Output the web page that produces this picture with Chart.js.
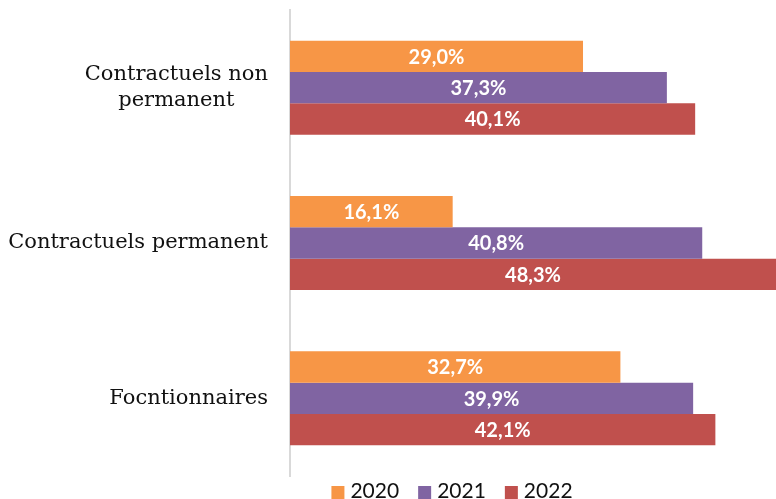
<!DOCTYPE html>
<html>
<head>
<meta charset="utf-8">
<script src="https://cdn.jsdelivr.net/npm/chart.js@4/dist/chart.umd.min.js"></script>
<style>
  html, body { margin: 0; padding: 0; overflow: hidden; background: #fff; }
  #wrap { width: 776px; height: 499px; }
</style>
</head>
<body>
<div id="wrap"><canvas id="chart"></canvas></div>
<script>
// Values
const categories = [["Contractuels non", "permanent"], "Contractuels permanent", "Focntionnaires"];
const years = ["2020", "2021", "2022"];
const values2020 = [29.0, 16.1, 32.7];
const values2021 = [37.3, 40.8, 39.9];
const values2022 = [40.1, 48.3, 42.1];
const colors = ["#F79646", "#8064A2", "#C0504D"];

// White percentage labels in the middle of each bar
const barLabels = {
    id: "barLabels",
    afterDatasetsDraw(chart) {
        const ctx = chart.ctx;
        const area = chart.chartArea;
        ctx.save();
        ctx.fillStyle = "#fff";
        ctx.font = "bold 20px Lato";
        ctx.textAlign = "center";
        ctx.textBaseline = "middle";
        chart.data.datasets.forEach((ds, i) => {
            chart.getDatasetMeta(i).data.forEach((bar, j) => {
                const right = Math.min(bar.x, area.right);
                const txt = ds.data[j].toFixed(1).replace(".", ",") + "%";
                ctx.fillText(txt, (bar.base + right) / 2, bar.y + 1);
            });
        });
        ctx.restore();
    }
};

// Category names, multi-line ones centred on each other, block right-aligned
const catLabels = {
    id: "catLabels",
    afterDraw(chart) {
        const ctx = chart.ctx;
        const y = chart.scales.y;
        const right = chart.chartArea.left - 22;
        ctx.save();
        ctx.fillStyle = "#111";
        ctx.font = "21px 'DejaVu Serif'";
        ctx.textAlign = "center";
        ctx.textBaseline = "middle";
        chart.data.labels.forEach((lab, i) => {
            const lines = Array.isArray(lab) ? lab : [lab];
            const w = Math.max(...lines.map(l => ctx.measureText(l).width));
            const cy = y.getPixelForValue(i);
            const lh = 26;
            lines.forEach((l, k) => {
                ctx.fillText(l, right - w / 2, cy + (k - (lines.length - 1) / 2) * lh);
            });
        });
        ctx.restore();
    }
};

// Legend along the bottom edge
const bottomLegend = {
    id: "bottomLegend",
    afterDraw(chart) {
        const ctx = chart.ctx;
        ctx.save();
        ctx.font = "21px Lato";
        ctx.textBaseline = "alphabetic";
        const box = 13, gap = 6, space = 19;
        const items = chart.data.datasets.map(ds => ({ text: ds.label, color: ds.backgroundColor }));
        const total = items.reduce((s, it) => s + box + gap + ctx.measureText(it.text).width, 0) + space * (items.length - 1);
        let x = 452 - total / 2;
        items.forEach(it => {
            ctx.fillStyle = it.color;
            ctx.fillRect(x, 486, box, box);
            x += box + gap;
            ctx.fillStyle = "#111";
            ctx.fillText(it.text, x, 498);
            x += ctx.measureText(it.text).width + space;
        });
        ctx.restore();
    }
};

const ctx = document.getElementById("chart").getContext("2d");
new Chart(ctx, {
    type: "bar",
    data: {
        labels: categories,
        datasets: [values2020, values2021, values2022].map((vals, i) => ({
            label: years[i],
            data: vals,
            backgroundColor: colors[i],
            barPercentage: 1.0,
            categoryPercentage: 0.605,
        })),
    },
    options: {
        indexAxis: "y",
        responsive: true,
        maintainAspectRatio: false,
        animation: false,
        layout: { padding: { top: 10, right: 0, bottom: 23, left: 0 } },
        scales: {
            x: {
                display: false,
                min: 0,
                max: 48.1,
            },
            y: {
                afterFit: scale => { scale.width = 290; },
                grid: { display: false, drawTicks: false },
                border: { display: true, color: "#d9d9d9", width: 2 },
                ticks: { display: false },
            },
        },
        plugins: {
            legend: { display: false },
            tooltip: { enabled: false },
        },
    },
    plugins: [barLabels, catLabels, bottomLegend],
});
</script>
</body>
</html>
